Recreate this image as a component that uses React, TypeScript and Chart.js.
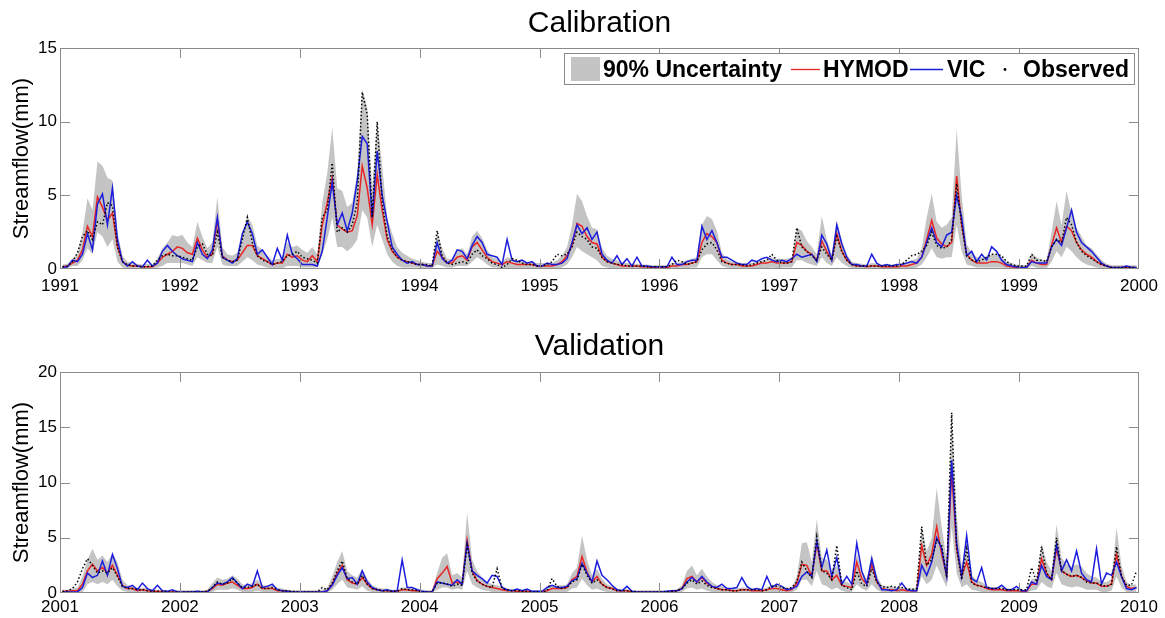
import React, { useEffect, useRef } from "react";
import { Chart, registerables } from "chart.js";

Chart.register(...registerables);

const FONT = '"Liberation Sans", Arial, Helvetica, sans-serif';

// ---------- Calibration period (half-month samples, 24 per year) ----------
const calYears = [1991, 1992, 1993, 1994, 1995, 1996, 1997, 1998, 1999];
const calTicks = [1991, 1992, 1993, 1994, 1995, 1996, 1997, 1998, 1999, 2000];

const calHi = [
  0.3, 0.35, 0.7, 1.0, 2.5, 4.8, 4.0, 7.3, 7.0, 6.2, 6.0, 2.5, 0.9, 0.5, 0.4, 0.35, 0.3, 0.35, 0.3, 0.7, 1.4, 1.8, 2.3, 2.2,
  2.3, 1.8, 1.5, 3.2, 2.2, 1.4, 1.8, 4.9, 1.5, 1.0, 0.9, 1.1, 2.3, 3.6, 3.0, 1.6, 1.3, 0.9, 0.6, 0.7, 0.7, 1.8, 1.5, 1.6,
  1.3, 1.1, 1.5, 1.0, 4.5, 6.5, 9.6, 5.5, 5.3, 4.2, 4.5, 6.5, 12.2, 11.0, 5.5, 10.0, 7.0, 3.5, 2.4, 1.5, 1.1, 0.9, 0.7, 0.6,
  0.5, 0.4, 0.4, 2.5, 1.4, 0.7, 0.7, 1.3, 1.4, 1.0, 2.2, 2.6, 2.1, 1.3, 0.8, 0.7, 0.5, 0.8, 0.7, 0.6, 0.5, 0.5, 0.5, 0.4,
  0.4, 0.4, 0.4, 0.6, 0.9, 1.5, 3.0, 5.1, 4.6, 3.6, 2.8, 2.7, 1.4, 0.9, 0.7, 0.6, 0.4, 0.4, 0.35, 0.35, 0.3, 0.3, 0.25, 0.25,
  0.25, 0.25, 0.4, 0.4, 0.5, 0.6, 0.7, 0.8, 3.0, 3.6, 3.4, 2.6, 1.1, 0.7, 0.5, 0.5, 0.4, 0.4, 0.4, 0.5, 0.6, 0.6, 0.8, 0.7,
  0.7, 0.7, 0.8, 2.8, 2.6, 1.9, 1.5, 1.0, 3.6, 2.0, 1.0, 3.2, 2.0, 1.0, 0.5, 0.4, 0.35, 0.3, 0.4, 0.35, 0.3, 0.3, 0.3, 0.3,
  0.4, 0.5, 0.6, 0.7, 1.4, 3.5, 5.1, 3.2, 2.8, 3.0, 3.5, 9.5, 5.0, 1.7, 1.1, 0.8, 0.8, 0.8, 1.0, 1.0, 0.8, 0.5, 0.4, 0.3,
  0.25, 0.25, 1.1, 0.8, 0.6, 0.6, 2.5, 4.6, 3.0, 5.3, 3.8, 2.8, 2.2, 1.6, 1.4, 1.0, 0.6, 0.35, 0.25, 0.25, 0.25, 0.25, 0.25, 0.25,
];

const calLo = [
  0.05, 0.05, 0.2, 0.2, 0.6, 1.4, 1.0, 2.5, 2.2, 1.5, 2.0, 0.5, 0.1, 0.05, 0.05, 0.05, 0.05, 0.05, 0.05, 0.1, 0.2, 0.4, 0.4, 0.4,
  0.4, 0.3, 0.2, 0.8, 0.6, 0.4, 0.4, 1.5, 0.3, 0.2, 0.2, 0.2, 0.5, 0.8, 0.6, 0.3, 0.2, 0.1, 0.05, 0.05, 0.05, 0.2, 0.2, 0.2,
  0.1, 0.1, 0.1, 0.1, 1.0, 2.0, 3.5, 1.5, 1.5, 1.2, 1.5, 2.0, 4.0, 3.5, 1.5, 3.0, 2.0, 1.0, 0.5, 0.2, 0.1, 0.1, 0.1, 0.1,
  0.05, 0.05, 0.05, 0.3, 0.2, 0.1, 0.1, 0.2, 0.2, 0.2, 0.5, 0.8, 0.6, 0.3, 0.1, 0.1, 0.05, 0.05, 0.05, 0.05, 0.05, 0.05, 0.05, 0.05,
  0.05, 0.05, 0.05, 0.05, 0.1, 0.3, 0.8, 1.5, 1.2, 1.0, 0.8, 0.6, 0.2, 0.1, 0.05, 0.05, 0.05, 0.05, 0.03, 0.03, 0.03, 0.03, 0.03, 0.03,
  0.03, 0.03, 0.03, 0.05, 0.05, 0.05, 0.1, 0.1, 0.8, 1.0, 1.0, 0.6, 0.2, 0.1, 0.05, 0.05, 0.05, 0.05, 0.05, 0.05, 0.05, 0.05, 0.1, 0.05,
  0.1, 0.1, 0.1, 0.6, 0.6, 0.4, 0.3, 0.2, 0.8, 0.4, 0.2, 0.8, 0.4, 0.2, 0.05, 0.05, 0.05, 0.03, 0.03, 0.03, 0.03, 0.03, 0.03, 0.03,
  0.05, 0.05, 0.05, 0.1, 0.3, 0.8, 1.4, 0.8, 0.7, 0.8, 0.8, 3.0, 1.2, 0.3, 0.2, 0.1, 0.1, 0.1, 0.1, 0.1, 0.1, 0.05, 0.03, 0.03,
  0.03, 0.03, 0.2, 0.1, 0.05, 0.05, 0.5, 1.2, 0.8, 1.5, 1.2, 0.8, 0.5, 0.3, 0.2, 0.1, 0.05, 0.03, 0.02, 0.02, 0.02, 0.02, 0.02, 0.02,
];

const calHymod = [
  0.15, 0.2, 0.4, 0.6, 1.3, 2.9, 2.2, 4.9, 4.2, 3.3, 3.8, 1.5, 0.5, 0.25, 0.2, 0.2, 0.15, 0.15, 0.15, 0.4, 0.8, 1.0, 1.2, 1.5,
  1.4, 1.1, 1.0, 2.1, 1.3, 0.8, 1.0, 3.3, 0.9, 0.6, 0.5, 0.6, 1.1, 1.6, 1.6, 0.9, 0.7, 0.5, 0.3, 0.4, 0.4, 1.0, 0.8, 0.9,
  0.6, 0.5, 0.9, 0.5, 3.0, 4.5, 6.2, 3.0, 2.7, 2.5, 2.6, 3.6, 7.0, 5.5, 3.0, 6.4, 4.0, 2.0, 1.2, 0.8, 0.6, 0.5, 0.4, 0.3,
  0.3, 0.2, 0.2, 1.2, 0.8, 0.4, 0.4, 0.8, 0.9, 0.6, 1.5, 1.8, 1.3, 0.8, 0.5, 0.4, 0.3, 0.5, 0.4, 0.3, 0.3, 0.3, 0.3, 0.2,
  0.2, 0.2, 0.2, 0.3, 0.5, 0.9, 1.6, 3.1, 2.9, 2.2, 1.8, 1.7, 0.8, 0.5, 0.4, 0.3, 0.2, 0.2, 0.2, 0.2, 0.15, 0.15, 0.1, 0.1,
  0.1, 0.1, 0.2, 0.2, 0.3, 0.3, 0.4, 0.5, 1.8, 2.4, 2.2, 1.8, 0.6, 0.4, 0.3, 0.3, 0.2, 0.2, 0.2, 0.3, 0.4, 0.4, 0.5, 0.4,
  0.4, 0.4, 0.5, 1.8, 1.6, 1.2, 1.0, 0.6, 1.9, 1.2, 0.6, 2.4, 1.2, 0.6, 0.3, 0.2, 0.2, 0.15, 0.2, 0.2, 0.15, 0.15, 0.15, 0.15,
  0.2, 0.2, 0.3, 0.4, 0.8, 2.0, 3.3, 2.1, 1.7, 1.5, 1.8, 6.3, 3.0, 1.0, 0.6, 0.4, 0.4, 0.4, 0.5, 0.5, 0.4, 0.2, 0.15, 0.1,
  0.1, 0.1, 0.6, 0.4, 0.3, 0.3, 1.6, 2.8, 1.8, 2.9, 2.6, 1.8, 1.3, 1.0, 0.8, 0.5, 0.3, 0.2, 0.1, 0.1, 0.1, 0.1, 0.1, 0.1,
];

const calVic = [
  0.1, 0.15, 0.6, 0.5, 1.0, 2.4, 1.3, 4.4, 5.1, 3.0, 5.5, 2.0, 0.5, 0.2, 0.5, 0.2, 0.15, 0.6, 0.2, 0.4, 1.2, 1.6, 1.2, 0.9,
  0.7, 0.6, 0.5, 1.8, 1.0, 0.7, 1.3, 3.5, 0.8, 0.6, 0.4, 0.7, 2.4, 3.2, 2.4, 1.0, 1.3, 0.8, 0.3, 1.4, 0.6, 2.3, 1.0, 0.7,
  0.3, 0.3, 0.3, 0.2, 1.2, 3.5, 5.9, 3.0, 3.8, 2.6, 3.8, 6.0, 9.0, 8.5, 3.5, 8.0, 5.0, 3.2, 1.5, 1.0, 0.6, 0.4, 0.5, 0.3,
  0.3, 0.2, 0.2, 1.8, 0.7, 0.4, 0.6, 1.3, 1.2, 0.7, 1.6, 2.2, 1.8, 1.0, 0.9, 0.8, 0.3, 2.0, 0.6, 0.5, 0.6, 0.4, 0.5, 0.2,
  0.2, 0.4, 0.3, 0.3, 0.4, 0.7, 1.8, 3.0, 2.4, 2.8, 2.0, 2.5, 1.0, 0.6, 0.4, 0.9, 0.3, 0.7, 0.2, 0.8, 0.2, 0.2, 0.15, 0.15,
  0.15, 0.15, 0.8, 0.3, 0.3, 0.5, 0.6, 0.6, 2.9, 2.0, 2.6, 1.8, 0.8, 0.8, 0.6, 0.4, 0.3, 0.3, 0.6, 0.5, 0.7, 0.8, 0.6, 0.5,
  0.6, 0.5, 0.7, 1.0, 0.8, 0.9, 1.0, 0.5, 2.3, 1.7, 0.6, 3.0, 1.7, 0.8, 0.3, 0.3, 0.2, 0.2, 1.0, 0.4, 0.2, 0.3, 0.2, 0.3,
  0.3, 0.4, 0.5, 0.4, 0.8, 1.8, 2.8, 1.8, 1.5, 2.3, 2.5, 5.0, 3.5, 0.9, 1.2, 0.5, 1.0, 0.6, 1.5, 1.2, 0.6, 0.3, 0.2, 0.15,
  0.1, 0.1, 0.5, 0.4, 0.4, 0.4, 1.5, 2.0, 1.6, 2.8, 4.0, 2.5, 1.8, 1.5, 1.2, 0.8, 0.4, 0.2, 0.1, 0.1, 0.1, 0.2, 0.1, 0.1,
];

const calObs = [
  0.15, 0.2, 0.5, 1.1, 2.2, 2.6, 2.0, 3.2, 3.0, 4.5, 4.3, 1.5, 0.5, 0.3, 0.2, 0.2, 0.15, 0.15, 0.2, 0.6, 0.9, 1.0, 0.9, 0.9,
  0.8, 0.7, 0.6, 1.5, 1.7, 1.0, 0.9, 2.5, 0.8, 0.6, 0.5, 0.6, 2.0, 3.5, 1.8, 0.9, 0.6, 0.5, 0.3, 0.4, 0.5, 0.9, 1.0, 1.2,
  0.8, 0.7, 0.6, 0.4, 3.5, 4.0, 7.2, 2.5, 2.8, 2.5, 3.0, 4.5, 12.0, 10.5, 3.5, 10.0, 4.5, 2.2, 1.3, 0.8, 0.6, 0.5, 0.4, 0.3,
  0.3, 0.3, 0.2, 2.6, 0.9, 0.4, 0.3, 0.4, 0.5, 0.4, 1.0, 1.3, 0.9, 0.7, 0.4, 0.3, 0.1, 0.3, 0.7, 0.6, 0.4, 0.3, 0.3, 0.2,
  0.2, 0.3, 0.5, 1.0, 0.9, 1.0, 1.5, 2.5, 2.2, 2.0, 1.5, 1.4, 0.8, 0.5, 0.4, 0.3, 0.3, 0.2, 0.2, 0.2, 0.2, 0.15, 0.15, 0.15,
  0.15, 0.15, 0.3, 0.6, 0.5, 0.3, 0.4, 0.5, 1.3, 1.7, 1.8, 1.3, 0.5, 0.4, 0.3, 0.3, 0.3, 0.2, 0.3, 0.4, 0.5, 0.6, 1.0, 0.6,
  0.4, 0.4, 0.5, 2.8, 1.5, 1.2, 0.9, 0.6, 1.5, 1.0, 0.6, 2.2, 1.2, 0.6, 0.3, 0.2, 0.2, 0.2, 0.2, 0.2, 0.2, 0.2, 0.2, 0.2,
  0.3, 0.6, 0.9, 1.0, 1.2, 1.6, 2.5, 1.6, 1.4, 1.5, 2.0, 5.8, 3.0, 0.9, 0.6, 0.5, 0.6, 0.8, 1.0, 1.0, 0.9, 0.5, 0.3, 0.2,
  0.2, 0.2, 1.0, 0.6, 0.6, 0.5, 1.5, 2.0, 1.8, 3.5, 3.0, 1.8, 1.2, 0.9, 0.7, 0.5, 0.3, 0.2, 0.1, 0.1, 0.1, 0.1, 0.1, 0.1,
];

// ---------- Validation period ----------
const valYears = [2001, 2002, 2003, 2004, 2005, 2006, 2007, 2008, 2009];
const valTicks = [2001, 2002, 2003, 2004, 2005, 2006, 2007, 2008, 2009, 2010];

const valHi = [
  0.3, 0.3, 0.4, 0.5, 1.5, 3.0, 4.0, 3.0, 3.4, 2.8, 3.6, 2.8, 1.2, 0.7, 0.6, 0.4, 0.5, 0.4, 0.3, 0.3, 0.3, 0.25, 0.25, 0.25,
  0.25, 0.25, 0.25, 0.25, 0.25, 0.3, 0.9, 1.4, 1.2, 1.3, 1.6, 1.3, 0.8, 0.7, 0.9, 1.2, 0.7, 0.7, 0.7, 0.5, 0.4, 0.3, 0.25, 0.25,
  0.25, 0.25, 0.25, 0.25, 0.3, 0.5, 1.5, 2.8, 3.8, 2.0, 1.6, 1.4, 2.2, 1.3, 0.7, 0.5, 0.4, 0.4, 0.3, 0.3, 0.5, 0.5, 0.4, 0.4,
  0.3, 0.25, 0.25, 1.8, 3.2, 3.6, 1.6, 1.8, 1.4, 7.3, 3.0, 2.0, 1.4, 1.0, 0.8, 0.7, 0.6, 0.4, 0.35, 0.3, 0.3, 0.3, 0.25, 0.25,
  0.25, 0.4, 0.7, 0.7, 0.7, 0.8, 1.8, 2.3, 5.2, 3.0, 1.6, 2.2, 1.3, 0.8, 0.6, 0.4, 0.35, 0.35, 0.25, 0.25, 0.25, 0.25, 0.25, 0.25,
  0.25, 0.25, 0.3, 0.35, 0.7, 2.0, 2.5, 1.6, 2.2, 1.5, 1.0, 0.7, 0.6, 0.5, 0.4, 0.4, 0.5, 0.5, 0.4, 0.4, 0.35, 0.5, 0.7, 0.7,
  0.6, 0.4, 0.5, 1.5, 4.5, 4.6, 2.8, 6.7, 3.2, 3.0, 2.0, 2.5, 1.2, 1.0, 0.8, 3.6, 2.0, 1.3, 3.6, 1.6, 0.7, 0.6, 0.6, 0.5,
  0.5, 0.4, 0.4, 0.5, 6.0, 3.8, 5.0, 9.5, 6.0, 3.0, 16.3, 7.0, 2.5, 4.0, 1.6, 1.2, 1.0, 0.7, 0.5, 0.5, 0.5, 0.4, 0.4, 0.4,
  0.3, 0.3, 1.3, 1.3, 4.5, 2.8, 2.0, 6.2, 3.2, 2.6, 2.4, 2.6, 2.4, 1.8, 1.5, 1.4, 1.0, 1.0, 1.3, 5.9, 2.5, 1.0, 0.7, 0.8,
];

const valLo = [
  0.02, 0.02, 0.02, 0.02, 0.1, 0.8, 1.0, 0.8, 1.0, 0.8, 1.2, 0.6, 0.2, 0.1, 0.1, 0.05, 0.05, 0.05, 0.02, 0.02, 0.02, 0.02, 0.02, 0.02,
  0.02, 0.02, 0.02, 0.02, 0.02, 0.02, 0.1, 0.3, 0.3, 0.3, 0.4, 0.3, 0.1, 0.1, 0.1, 0.2, 0.1, 0.1, 0.1, 0.05, 0.02, 0.02, 0.02, 0.02,
  0.02, 0.02, 0.02, 0.02, 0.02, 0.05, 0.3, 0.8, 1.2, 0.5, 0.4, 0.3, 0.6, 0.2, 0.1, 0.05, 0.05, 0.05, 0.02, 0.02, 0.05, 0.05, 0.05, 0.02,
  0.02, 0.02, 0.02, 0.3, 0.5, 0.5, 0.3, 0.4, 0.3, 2.0, 0.8, 0.5, 0.3, 0.2, 0.1, 0.1, 0.05, 0.05, 0.02, 0.02, 0.02, 0.02, 0.02, 0.02,
  0.02, 0.05, 0.1, 0.1, 0.1, 0.1, 0.4, 0.5, 1.3, 0.7, 0.3, 0.4, 0.2, 0.1, 0.05, 0.05, 0.02, 0.02, 0.02, 0.02, 0.02, 0.02, 0.02, 0.02,
  0.02, 0.02, 0.02, 0.05, 0.1, 0.4, 0.5, 0.3, 0.4, 0.2, 0.1, 0.05, 0.05, 0.05, 0.02, 0.02, 0.05, 0.05, 0.02, 0.02, 0.02, 0.05, 0.1, 0.1,
  0.1, 0.05, 0.05, 0.3, 1.2, 1.2, 0.6, 2.0, 0.8, 0.6, 0.3, 0.5, 0.2, 0.1, 0.1, 0.8, 0.4, 0.2, 0.8, 0.3, 0.1, 0.1, 0.1, 0.05,
  0.05, 0.05, 0.05, 0.05, 1.5, 0.8, 1.2, 2.5, 1.5, 0.5, 6.0, 1.8, 0.5, 0.8, 0.3, 0.2, 0.1, 0.1, 0.05, 0.05, 0.05, 0.05, 0.05, 0.05,
  0.05, 0.05, 0.2, 0.3, 1.0, 0.6, 0.4, 1.8, 0.8, 0.6, 0.5, 0.6, 0.5, 0.3, 0.3, 0.3, 0.1, 0.1, 0.2, 1.5, 0.5, 0.1, 0.1, 0.1,
];

const valHymod = [
  0.15, 0.15, 0.2, 0.2, 0.8, 2.0, 2.6, 2.0, 2.3, 1.8, 2.5, 1.6, 0.7, 0.4, 0.4, 0.2, 0.3, 0.2, 0.15, 0.15, 0.1, 0.1, 0.1, 0.1,
  0.1, 0.1, 0.1, 0.1, 0.1, 0.15, 0.4, 0.8, 0.7, 0.9, 1.0, 0.7, 0.4, 0.4, 0.5, 0.8, 0.4, 0.4, 0.4, 0.2, 0.2, 0.15, 0.1, 0.1,
  0.1, 0.1, 0.1, 0.1, 0.1, 0.2, 0.8, 1.8, 2.5, 1.2, 0.9, 0.8, 1.4, 0.8, 0.4, 0.3, 0.2, 0.2, 0.15, 0.15, 0.3, 0.3, 0.2, 0.2,
  0.1, 0.1, 0.1, 1.3, 1.8, 2.4, 0.9, 1.0, 0.8, 4.8, 2.0, 1.1, 0.8, 0.6, 0.5, 0.4, 0.3, 0.2, 0.2, 0.15, 0.15, 0.15, 0.1, 0.1,
  0.1, 0.2, 0.4, 0.4, 0.4, 0.5, 1.2, 1.5, 3.3, 1.9, 1.0, 1.5, 0.8, 0.5, 0.4, 0.2, 0.2, 0.2, 0.1, 0.1, 0.1, 0.1, 0.1, 0.1,
  0.1, 0.1, 0.15, 0.2, 0.4, 1.3, 1.5, 1.0, 1.4, 0.9, 0.6, 0.4, 0.3, 0.3, 0.2, 0.2, 0.3, 0.3, 0.2, 0.2, 0.2, 0.3, 0.4, 0.4,
  0.3, 0.2, 0.3, 0.9, 2.6, 2.5, 1.5, 4.5, 2.0, 2.0, 1.2, 1.6, 0.7, 0.6, 0.5, 2.8, 1.3, 0.8, 2.6, 1.0, 0.4, 0.3, 0.3, 0.2,
  0.3, 0.2, 0.2, 0.2, 4.3, 2.5, 3.5, 6.0, 3.5, 1.6, 11.0, 4.0, 1.5, 2.8, 1.0, 0.7, 0.6, 0.4, 0.3, 0.3, 0.3, 0.2, 0.2, 0.2,
  0.15, 0.15, 0.8, 0.8, 3.1, 1.8, 1.2, 4.0, 2.0, 1.7, 1.5, 1.6, 1.4, 1.1, 0.9, 0.9, 0.6, 0.6, 0.8, 3.5, 1.5, 0.6, 0.4, 0.5,
];

const valVic = [
  0.1, 0.1, 0.1, 0.1, 0.5, 1.8, 1.4, 1.6, 2.9, 1.6, 3.5, 2.2, 0.6, 0.5, 0.7, 0.3, 0.9, 0.4, 0.2, 0.7, 0.2, 0.15, 0.3, 0.1,
  0.1, 0.1, 0.1, 0.15, 0.1, 0.1, 0.5, 0.9, 0.8, 1.0, 1.4, 0.9, 0.4, 0.8, 0.6, 2.0, 0.5, 0.6, 0.8, 0.3, 0.2, 0.15, 0.1, 0.1,
  0.1, 0.1, 0.1, 0.1, 0.1, 0.2, 0.7, 1.6, 2.3, 1.3, 1.4, 0.8, 2.0, 1.0, 0.5, 0.3, 0.2, 0.3, 0.15, 0.2, 3.0, 0.5, 0.5, 0.3,
  0.15, 0.1, 0.1, 1.0, 0.9, 0.8, 0.7, 1.2, 0.8, 4.5, 2.0, 1.6, 1.3, 0.9, 1.6, 1.5, 0.5, 0.3, 0.2, 0.35, 0.2, 0.35, 0.15, 0.15,
  0.15, 0.5, 0.7, 0.5, 0.5, 0.6, 1.1, 1.3, 2.7, 1.8, 1.0, 2.9, 1.6, 1.2, 0.7, 0.3, 0.2, 0.6, 0.15, 0.1, 0.1, 0.1, 0.1, 0.1,
  0.1, 0.15, 0.2, 0.2, 0.4, 1.0, 1.4, 1.0, 1.5, 1.0, 0.6, 0.5, 0.8, 0.4, 0.4, 0.5, 1.4, 0.6, 0.3, 0.4, 0.3, 1.5, 0.5, 0.8,
  0.6, 0.3, 0.4, 0.6, 1.5, 1.9, 1.5, 4.7, 2.3, 3.9, 1.5, 3.2, 0.8, 1.5, 0.8, 4.5, 2.0, 0.8, 3.1, 1.2, 0.3, 0.3, 0.2, 0.3,
  0.9, 0.3, 0.2, 0.2, 2.5, 1.6, 2.8, 5.0, 4.0, 1.5, 12.0, 4.5, 1.5, 5.2, 1.3, 1.0, 2.3, 0.5, 0.4, 0.4, 0.7, 0.3, 0.3, 0.6,
  0.2, 0.2, 1.0, 0.8, 2.5, 1.5, 1.2, 4.4, 2.0, 3.0, 2.0, 3.8, 1.8, 1.2, 1.0, 4.0, 0.8, 1.8, 1.6, 2.8, 1.5, 0.4, 0.3, 0.5,
];

const valObs = [
  0.15, 0.2, 0.4, 1.0, 2.2, 3.1, 2.5, 1.8, 2.0, 1.8, 2.3, 1.5, 0.6, 0.4, 0.4, 0.3, 0.3, 0.2, 0.15, 0.15, 0.15, 0.1, 0.1, 0.1,
  0.1, 0.1, 0.1, 0.1, 0.1, 0.15, 0.5, 1.0, 0.8, 0.9, 1.3, 0.9, 0.5, 0.5, 0.6, 0.8, 0.4, 0.4, 0.5, 0.3, 0.2, 0.2, 0.15, 0.1,
  0.1, 0.1, 0.1, 0.1, 0.5, 0.3, 0.9, 2.0, 2.9, 1.3, 1.0, 0.8, 1.6, 0.8, 0.4, 0.3, 0.2, 0.2, 0.15, 0.15, 0.4, 0.3, 0.3, 0.2,
  0.1, 0.1, 0.1, 0.9, 0.9, 0.8, 0.6, 0.8, 0.7, 4.3, 1.8, 1.1, 0.8, 0.6, 0.5, 2.2, 0.4, 0.3, 0.2, 0.2, 0.15, 0.15, 0.1, 0.1,
  0.1, 0.2, 1.3, 0.6, 0.4, 0.5, 1.0, 1.2, 2.6, 1.6, 0.9, 1.2, 0.8, 0.5, 0.4, 0.2, 0.2, 0.2, 0.15, 0.1, 0.1, 0.1, 0.1, 0.1,
  0.1, 0.1, 0.15, 0.2, 0.4, 0.9, 1.2, 0.8, 1.1, 0.7, 0.5, 0.4, 0.3, 0.3, 0.2, 0.2, 0.3, 0.3, 0.3, 0.3, 0.2, 0.3, 0.6, 0.6,
  0.5, 0.4, 0.5, 1.0, 2.8, 2.0, 1.4, 5.1, 2.0, 1.8, 1.2, 4.3, 0.7, 0.5, 0.3, 2.0, 0.8, 0.6, 2.2, 1.0, 0.6, 0.5, 0.6, 0.5,
  0.5, 0.4, 0.3, 0.4, 6.0, 2.5, 3.0, 4.8, 4.3, 1.4, 16.3, 4.0, 1.2, 4.0, 0.9, 0.7, 0.6, 0.5, 0.4, 0.4, 0.4, 0.3, 0.3, 0.3,
  0.3, 0.3, 2.3, 1.0, 4.2, 1.8, 1.2, 5.0, 2.0, 1.7, 1.5, 1.6, 1.4, 1.0, 0.9, 0.9, 0.7, 0.6, 0.8, 4.2, 1.5, 0.7, 0.7, 2.0,
];

const STEPS_PER_YEAR = 24;
const BAND_COLOR = "rgb(196,196,196)";
const HYMOD_COLOR = "rgb(232,36,36)";
const VIC_COLOR = "rgb(28,28,220)";
const AXIS_COLOR = "#8a8a8a";

function sampleTimes(years: number[]): number[] {
  const out: number[] = [];
  for (const y of years) {
    for (let k = 0; k < STEPS_PER_YEAR; k++) out.push(y + (k + 0.5) / STEPS_PER_YEAR);
  }
  return out;
}

function pairs(xs: number[], ys: number[]) {
  return xs.map((x, i) => ({ x, y: ys[i] }));
}

type PanelCfg = {
  title: string;
  titleBaseline: number;
  years: number[];
  ticks: number[];
  yMax: number;
  hi: number[];
  lo: number[];
  hymod: number[];
  vic: number[];
  obs: number[];
  padTop: number;
  xHeight: number;
  labelPad: number;
  legend: boolean;
};

function framePlugin(cfg: PanelCfg) {
  return {
    id: "frame",
    afterDraw(chart: any) {
      const { ctx, chartArea } = chart;
      const { left, right, top, bottom } = chartArea;
      const xs = chart.scales.x;
      const ys = chart.scales.y;
      ctx.save();
      ctx.strokeStyle = AXIS_COLOR;
      ctx.lineWidth = 1;
      ctx.strokeRect(left + 0.5, top + 0.5, right - left - 1, bottom - top - 1);
      const tl = 10;
      ctx.beginPath();
      cfg.ticks.slice(1, -1).forEach((t) => {
        const px = Math.round(xs.getPixelForValue(t)) + 0.5;
        ctx.moveTo(px, top);
        ctx.lineTo(px, top + tl);
        ctx.moveTo(px, bottom);
        ctx.lineTo(px, bottom - tl);
      });
      for (let v = 5; v < cfg.yMax; v += 5) {
        const py = Math.round(ys.getPixelForValue(v)) + 0.5;
        ctx.moveTo(left, py);
        ctx.lineTo(left + tl, py);
        ctx.moveTo(right, py);
        ctx.lineTo(right - tl, py);
      }
      ctx.stroke();

      ctx.fillStyle = "#000";
      ctx.font = `30px ${FONT}`;
      ctx.textAlign = "center";
      ctx.textBaseline = "alphabetic";
      ctx.fillText(cfg.title, (left + right) / 2, cfg.titleBaseline);

      ctx.save();
      ctx.translate(28, (top + bottom) / 2);
      ctx.rotate(-Math.PI / 2);
      ctx.font = `22px ${FONT}`;
      ctx.textAlign = "center";
      ctx.textBaseline = "alphabetic";
      ctx.fillText("Streamflow(mm)", 0, 0);
      ctx.restore();

      if (cfg.legend) {
        const bx = 564, by = 53, bw = 571, bh = 32;
        ctx.fillStyle = "#fff";
        ctx.fillRect(bx, by, bw, bh);
        ctx.strokeStyle = AXIS_COLOR;
        ctx.strokeRect(bx + 0.5, by + 0.5, bw - 1, bh - 1);
        ctx.fillStyle = BAND_COLOR;
        ctx.fillRect(571, 57, 29, 24);
        ctx.font = `bold 23px ${FONT}`;
        ctx.fillStyle = "#000";
        ctx.textAlign = "left";
        ctx.textBaseline = "alphabetic";
        const base = 77;
        ctx.fillText("90% Uncertainty", 603, base);
        ctx.lineWidth = 1.3;
        ctx.strokeStyle = HYMOD_COLOR;
        ctx.beginPath();
        ctx.moveTo(791, 69.5);
        ctx.lineTo(820, 69.5);
        ctx.stroke();
        ctx.fillText("HYMOD", 823, base);
        ctx.strokeStyle = VIC_COLOR;
        ctx.beginPath();
        ctx.moveTo(910, 69.5);
        ctx.lineTo(943, 69.5);
        ctx.stroke();
        ctx.fillText("VIC", 947, base);
        ctx.fillStyle = "#000";
        ctx.beginPath();
        ctx.arc(1005, 69.5, 1.4, 0, Math.PI * 2);
        ctx.fill();
        ctx.fillText("Observed", 1023, base);
      }
      ctx.restore();
    },
  };
}

function Panel({ cfg }: { cfg: PanelCfg }) {
  const ref = useRef<HTMLCanvasElement | null>(null);
  useEffect(() => {
    if (!ref.current) return;
    const t = sampleTimes(cfg.years);
    const chart = new Chart(ref.current, {
      type: "line",
      data: {
        datasets: [
          {
            label: "lo",
            data: pairs(t, cfg.lo),
            borderColor: "rgba(0,0,0,0)",
            borderWidth: 1,
            pointRadius: 0,
            fill: false,
            order: 5,
          },
          {
            label: "90% Uncertainty",
            data: pairs(t, cfg.hi),
            borderColor: "rgba(0,0,0,0)",
            borderWidth: 1,
            pointRadius: 0,
            backgroundColor: BAND_COLOR,
            fill: "-1",
            order: 4,
          },
          {
            label: "HYMOD",
            data: pairs(t, cfg.hymod),
            borderColor: HYMOD_COLOR,
            borderWidth: 1.5,
            pointRadius: 0,
            fill: false,
            order: 3,
          },
          {
            label: "VIC",
            data: pairs(t, cfg.vic),
            borderColor: VIC_COLOR,
            borderWidth: 1.5,
            pointRadius: 0,
            fill: false,
            order: 2,
          },
          {
            label: "Observed",
            data: pairs(t, cfg.obs),
            borderColor: "#000",
            borderWidth: 1.5,
            borderDash: [1.5, 2.2],
            pointRadius: 0,
            fill: false,
            order: 1,
          },
        ],
      },
      options: {
        responsive: false,
        animation: false,
        events: [],
        layout: { padding: { top: cfg.padTop, right: 26, left: 0, bottom: 0 } },
        elements: { line: { tension: 0 } },
        plugins: {
          legend: { display: false },
          tooltip: { enabled: false },
          title: { display: false },
        },
        scales: {
          x: {
            type: "linear",
            min: cfg.ticks[0],
            max: cfg.ticks[cfg.ticks.length - 1],
            grid: { display: false, drawTicks: false },
            border: { display: false },
            afterBuildTicks: (s: any) => {
              s.ticks = cfg.ticks.map((v) => ({ value: v }));
            },
            ticks: {
              autoSkip: false,
              maxRotation: 0,
              padding: cfg.labelPad,
              color: "#000",
              font: { family: FONT, size: 17 },
              callback: (v: any) => String(v),
            },
            afterFit: (s: any) => {
              s.height = cfg.xHeight;
            },
          },
          y: {
            min: 0,
            max: cfg.yMax,
            grid: { display: false, drawTicks: false },
            border: { display: false },
            ticks: {
              stepSize: 5,
              padding: 3,
              color: "#000",
              font: { family: FONT, size: 17 },
              callback: (v: any) => String(v),
            },
            afterFit: (s: any) => {
              s.width = 60;
            },
          },
        },
      },
      plugins: [framePlugin(cfg)],
    } as any);
    return () => chart.destroy();
  }, [cfg]);
  return <canvas ref={ref} width={1165} height={309} style={{ display: "block" }} />;
}

const calCfg: PanelCfg = {
  title: "Calibration",
  titleBaseline: 32,
  years: calYears,
  ticks: calTicks,
  yMax: 15,
  hi: calHi,
  lo: calLo,
  hymod: calHymod,
  vic: calVic,
  obs: calObs,
  padTop: 48,
  xHeight: 40,
  labelPad: 7,
  legend: true,
};

const valCfg: PanelCfg = {
  title: "Validation",
  titleBaseline: 46,
  years: valYears,
  ticks: valTicks,
  yMax: 20,
  hi: valHi,
  lo: valLo,
  hymod: valHymod,
  vic: valVic,
  obs: valObs,
  padTop: 63,
  xHeight: 25,
  labelPad: 4,
  legend: false,
};

export default function App() {
  return (
    <div
      style={{
        position: "fixed",
        left: 0,
        top: 0,
        width: 1165,
        height: 618,
        background: "#fff",
        overflow: "hidden",
      }}
    >
      <Panel cfg={calCfg} />
      <Panel cfg={valCfg} />
    </div>
  );
}
